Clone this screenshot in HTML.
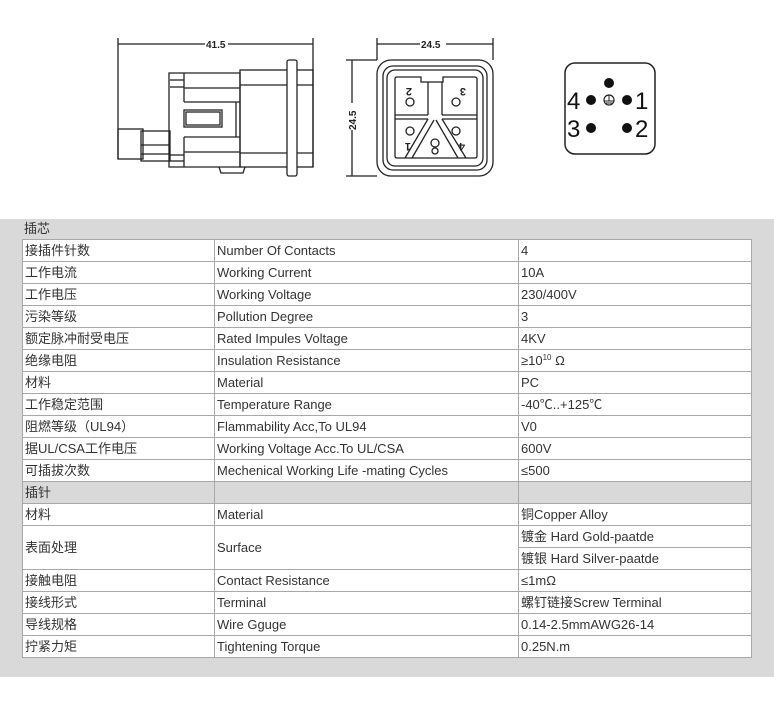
<!DOCTYPE html>
<html><head><meta charset="utf-8"><style>
*{margin:0;padding:0;box-sizing:border-box}
body{width:774px;height:708px;background:#fff;position:relative;overflow:hidden;font-family:"Liberation Sans","Noto Sans CJK SC",sans-serif;font-size:13px;color:#333}
#bg{position:absolute;left:0;top:219px;width:774px;height:458px;background:#d9d9d9}
table{position:absolute;left:22px;top:239px;border-collapse:collapse;width:730px}
td{height:22px;border:1px solid #a8a8a8;background:#fff;padding:0 0 0 2px;white-space:nowrap;line-height:20px;overflow:hidden}
td.g{background:#d9d9d9}
.c1{width:192px}.c2{width:304px}
sup{font-size:8px;line-height:0;vertical-align:5px}
#h1{position:absolute;left:24px;top:220px;line-height:18px}
</style></head><body>
<div id="bg"></div>
<div id="h1">插芯</div>
<table>
<tr><td class="c1">接插件针数</td><td class="c2">Number Of Contacts</td><td>4</td></tr>
<tr><td>工作电流</td><td>Working Current</td><td>10A</td></tr>
<tr><td>工作电压</td><td>Working Voltage</td><td>230/400V</td></tr>
<tr><td>污染等级</td><td>Pollution Degree</td><td>3</td></tr>
<tr><td>额定脉冲耐受电压</td><td>Rated Impules Voltage</td><td>4KV</td></tr>
<tr><td>绝缘电阻</td><td>Insulation Resistance</td><td>≥10<sup>10</sup> Ω</td></tr>
<tr><td>材料</td><td>Material</td><td>PC</td></tr>
<tr><td>工作稳定范围</td><td>Temperature Range</td><td>-40℃..+125℃</td></tr>
<tr><td>阻燃等级（UL94）</td><td>Flammability Acc,To UL94</td><td>V0</td></tr>
<tr><td>据UL/CSA工作电压</td><td>Working Voltage Acc.To UL/CSA</td><td>600V</td></tr>
<tr><td>可插拔次数</td><td>Mechenical Working Life -mating Cycles</td><td>≤500</td></tr>
<tr><td class="g">插针</td><td class="g"></td><td class="g"></td></tr>
<tr><td>材料</td><td>Material</td><td>铜Copper Alloy</td></tr>
<tr><td rowspan="2">表面处理</td><td rowspan="2">Surface</td><td>镀金 Hard Gold-paatde</td></tr>
<tr><td>镀银 Hard Silver-paatde</td></tr>
<tr><td>接触电阻</td><td>Contact Resistance</td><td>≤1mΩ</td></tr>
<tr><td>接线形式</td><td>Terminal</td><td>螺钉链接Screw Terminal</td></tr>
<tr><td>导线规格</td><td>Wire Gguge</td><td>0.14-2.5mmAWG26-14</td></tr>
<tr><td>拧紧力矩</td><td>Tightening Torque</td><td>0.25N.m</td></tr>
</table>
<svg style="position:absolute;left:0;top:0" width="774" height="219" fill="none" stroke="#222" stroke-width="1.3">
<line x1="118" y1="38" x2="118" y2="159"/><line x1="313" y1="38" x2="313" y2="167"/>
<line x1="118" y1="44" x2="205" y2="44"/><line x1="228" y1="44" x2="313" y2="44"/>
<text x="206" y="48" font-size="10" font-weight="bold" fill="#222" stroke="none" font-family="Liberation Sans">41.5</text>
<rect x="118" y="129" width="25" height="30"/>
<rect x="141" y="131" width="29" height="30"/>
<line x1="141" y1="145" x2="170" y2="145"/><line x1="141" y1="154" x2="170" y2="154"/>
<path d="M169 73 H240 V167 H169 Z"/>
<line x1="170" y1="80" x2="184" y2="80"/><line x1="170" y1="87" x2="184" y2="87"/>
<line x1="184" y1="73" x2="184" y2="102"/><line x1="184" y1="102" x2="240" y2="102"/>
<line x1="184" y1="88" x2="240" y2="88"/>
<rect x="184" y="110" width="38" height="17"/><rect x="186" y="112" width="34" height="13"/>
<line x1="184" y1="137" x2="240" y2="137"/><line x1="184" y1="137" x2="184" y2="167"/>
<line x1="184" y1="152" x2="240" y2="152"/>
<line x1="170" y1="155" x2="184" y2="155"/><line x1="170" y1="161" x2="184" y2="161"/>
<line x1="236" y1="102" x2="236" y2="137"/>
<rect x="240" y="70" width="73" height="97"/>
<line x1="240" y1="85" x2="313" y2="85"/><line x1="240" y1="153" x2="313" y2="153"/>
<rect x="287" y="60" width="10" height="116" rx="2" fill="#fff"/>
<path d="M219 167 L221 173 L243 173 L245 167"/>
<line x1="377" y1="38" x2="377" y2="60"/><line x1="493" y1="38" x2="493" y2="60"/>
<line x1="377" y1="44" x2="420" y2="44"/><line x1="446" y1="44" x2="493" y2="44"/>
<text x="421" y="48" font-size="10" font-weight="bold" fill="#222" stroke="none" font-family="Liberation Sans">24.5</text>
<line x1="346" y1="60" x2="377" y2="60"/><line x1="346" y1="176" x2="377" y2="176"/>
<line x1="352" y1="60" x2="352" y2="103"/><line x1="352" y1="130" x2="352" y2="176"/>
<text x="0" y="0" font-size="10" font-weight="bold" fill="#222" stroke="none" font-family="Liberation Sans" transform="translate(356,130) rotate(-90)">24.5</text>
<rect x="377" y="60" width="116" height="116" rx="14"/>
<rect x="383" y="66" width="104" height="104" rx="10"/>
<rect x="387" y="70" width="96" height="96" rx="8"/>
<path d="M395 79 Q395 77 397 77 H421 V82 H443 V77 H474 Q477 77 477 79 V156 Q477 158 475 158 H397 Q395 158 395 156 Z"/>
<line x1="395" y1="115" x2="428" y2="115"/><line x1="395" y1="119" x2="428" y2="119"/>
<line x1="442" y1="115" x2="477" y2="115"/><line x1="442" y1="119" x2="477" y2="119"/>
<line x1="428" y1="82" x2="428" y2="115"/><line x1="442" y1="82" x2="442" y2="115"/>
<path d="M428 119 L405 158 M434 120 L412 158 M442 119 L466 158 M436 120 L458 158"/>
<circle cx="410" cy="102" r="4"/><circle cx="456" cy="102" r="4"/>
<circle cx="410" cy="131" r="4"/><circle cx="456" cy="131" r="4"/>
<circle cx="435" cy="143" r="4"/><circle cx="435" cy="151" r="3"/>
<g fill="#222" stroke="none" font-size="11" font-weight="bold" font-family="Liberation Sans">
<text transform="translate(412,88) rotate(180)">2</text><text transform="translate(466,88) rotate(180)">3</text>
<text transform="translate(411,143) rotate(180)">1</text><text transform="translate(465,143) rotate(180)">4</text>
</g>
<rect x="565" y="63" width="90" height="91" rx="10" stroke-width="1.5"/>
<g fill="#111" stroke="none">
<circle cx="609" cy="83" r="5"/><circle cx="591" cy="100" r="5"/><circle cx="627" cy="100" r="5"/>
<circle cx="591" cy="128" r="5"/><circle cx="627" cy="128" r="5"/>
<g font-size="24" font-family="Liberation Sans"><text x="567" y="109">4</text><text x="635" y="109">1</text><text x="567" y="137">3</text><text x="635" y="137">2</text></g>
</g>
<circle cx="609" cy="100" r="5" stroke-width="1.2"/><path d="M609 95 V101 M604 101 H614 M606 103 H612" stroke-width="1"/>
</svg>
</body></html>
